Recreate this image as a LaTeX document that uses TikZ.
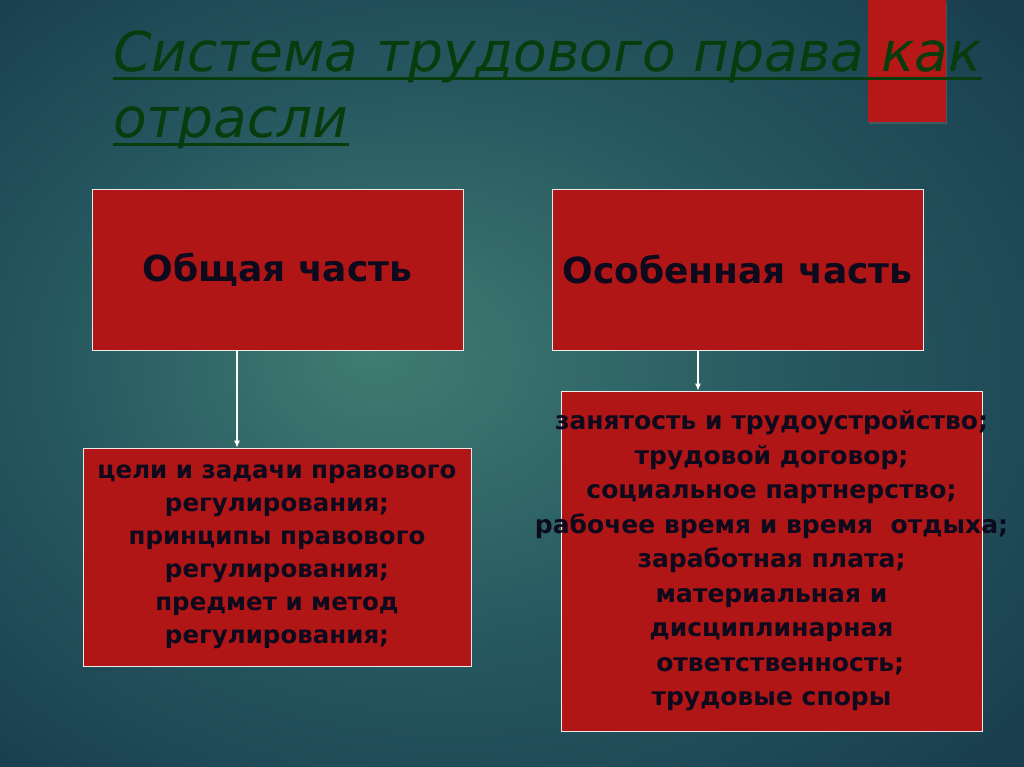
\documentclass[tikz,border=0pt]{standalone}
\usepackage{fontspec}
\setmainfont{DejaVu Sans}
\usetikzlibrary{arrows.meta,shadows}

\definecolor{boxred}{RGB}{176,22,22}
\definecolor{barred}{RGB}{182,24,24}
\definecolor{titlegreen}{RGB}{8,60,12}
\definecolor{boxtext}{RGB}{12,10,28}
\definecolor{bginner}{RGB}{64,124,114}
\definecolor{bgmid}{RGB}{38,88,96}
\definecolor{bgouter}{RGB}{20,52,72}

% slide background
\pgfdeclareradialshading{slidebg}{\pgfpoint{-7bp}{2bp}}{color(0bp)=(bginner); color(18bp)=(bgmid); color(42bp)=(bgouter)}

% underlined title line
\newcommand{\ttlul}[1]{\setbox0\hbox{#1}\rlap{\rule[-8.5pt]{\wd0}{3pt}}\box0}

\tikzset{
  box/.style={draw=white!85!gray, line width=0.8pt, fill=boxred, inner sep=0pt},
  headbox/.style={box, minimum width=371pt, minimum height=161pt, text=boxtext, font=\fontsize{36}{42}\selectfont\bfseries},
  listtext/.style={text=boxtext, align=center, inner sep=0pt},
  titletext/.style={anchor=base west, inner sep=0pt, text=titlegreen, font=\fontsize{55}{66}\selectfont\itshape},
  link/.style={draw=white, line width=1.1pt, -{Latex[length=7pt,width=6pt]}},
}

\begin{document}
\begin{tikzpicture}[x=1pt,y=-1pt]

% Background
\shade[shading=slidebg] (0,0) rectangle (1024,767);
\useasboundingbox (0,0) rectangle (1024,767);

% Red bar and title
\fill[barred, drop shadow={opacity=0.35, shadow xshift=1pt, shadow yshift=-2pt}] (868,0) rectangle (946,122);
\node[titletext] (title) at (113,72) {\ttlul{Система трудового права как}};
\node[titletext] (titlecont) at (113,138) {\ttlul{отрасли}};

% Upper boxes
\node[headbox] (gen) at (277.5,269.5) {Общая часть};
\node[headbox] (spec) at (737.5,269.5) {Особенная часть};

% Lower boxes
\node[box, listtext, minimum width=388pt, minimum height=218pt, font=\fontsize{24.5}{33}\selectfont\bfseries] (genlist) at (277,557)
  {цели и задачи правового\\ регулирования;\\ принципы правового\\ регулирования;\\ предмет и метод\\ регулирования;};
\node[box, minimum width=421pt, minimum height=340pt] (speclist) at (771.5,561) {};
\node[listtext, font=\fontsize{25}{34.5}\selectfont\bfseries] (speclisttext) at (speclist.center)
  {занятость и трудоустройство;\\ трудовой договор;\\ социальное партнерство;\\ рабочее время и время~~отдыха;\\ заработная плата;\\ материальная и\\ дисциплинарная\\ \ \ ответственность;\\ трудовые споры};

% Arrows
\draw[link] ([xshift=-40.5pt]gen.south) -- ([xshift=-40.5pt]gen.south |- genlist.north);
\draw[link] ([xshift=-39.5pt]spec.south) -- ([xshift=-39.5pt]spec.south |- speclist.north);

\end{tikzpicture}
\end{document}
